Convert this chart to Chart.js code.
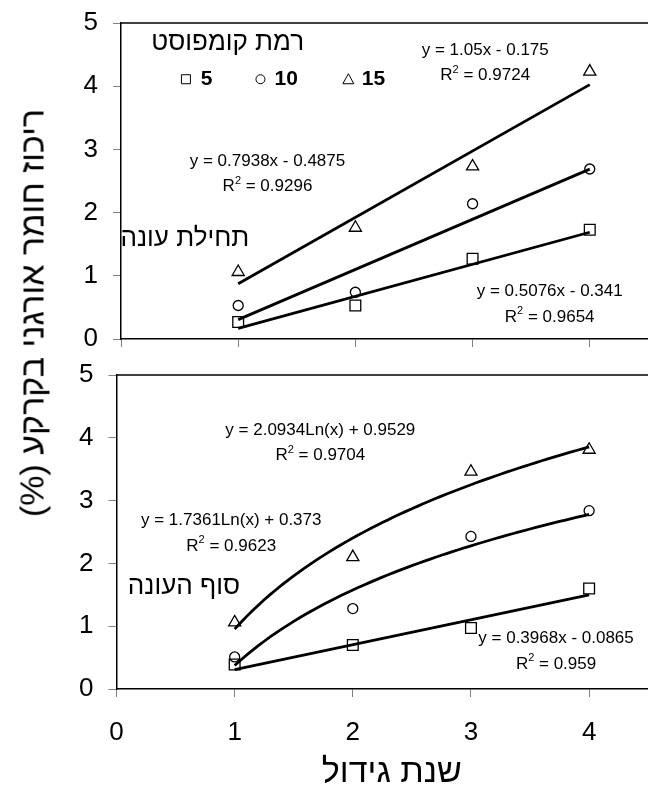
<!DOCTYPE html>
<html lang="he">
<head>
<meta charset="utf-8">
<script src="https://cdn.jsdelivr.net/npm/chart.js"></script>
<style>
  html, body { margin: 0; padding: 0; background: #fff; overflow: hidden; }
  body { width: 648px; height: 799px; position: relative; font-family: 'Liberation Sans', Arial, sans-serif; }
  #graficoInicio { position: absolute; left: 0; top: 0; }
  #graficoFim { position: absolute; left: 0; top: 360px; }
  #tituloY {
    position: absolute; left: 32px; top: 313px;
    transform: translate(-50%, -50%) rotate(-90deg);
    font-size: 34px; white-space: nowrap; color: #000;
  }
</style>
</head>
<body>
<canvas id="graficoInicio" width="676" height="360"></canvas>
<canvas id="graficoFim" width="676" height="439"></canvas>
<div id="tituloY" dir="rtl">ריכוז חומר אורגני בקרקע (%)</div>

<script>
// anos de cultivo (eixo x)
const anos = [1, 2, 3, 4];
const niveis = ['5', '10', '15'];

// início da estação
const inicio5 = [0.27, 0.53, 1.27, 1.73];
const inicio10 = [0.53, 0.74, 2.14, 2.69];
const inicio15 = [1.06, 1.76, 2.73, 4.23];

// fim da estação
const fim5 = [0.39, 0.70, 0.97, 1.60];
const fim10 = [0.51, 1.28, 2.43, 2.84];
const fim15 = [1.06, 2.10, 3.46, 3.81];

// coeficientes das linhas de tendência [a, b]
const tendInicio5 = [0.5076, -0.341];    // y = a*x + b
const tendInicio10 = [0.7938, -0.4875];
const tendInicio15 = [1.05, -0.175];
const tendFim5 = [0.3968, -0.0865];      // y = a*x + b
const tendFim10 = [1.7361, 0.373];       // y = a*ln(x) + b
const tendFim15 = [2.0934, 0.9529];

const eqInicio = ['y = 0.5076x - 0.341', 'y = 0.7938x - 0.4875', 'y = 1.05x - 0.175'];
const r2Inicio = ['0.9654', '0.9296', '0.9724'];
const eqFim = ['y = 0.3968x - 0.0865', 'y = 1.7361Ln(x) + 0.373', 'y = 2.0934Ln(x) + 0.9529'];
const r2Fim = ['0.959', '0.9623', '0.9704'];

const ticksY = [0, 1, 2, 3, 4, 5];
const ticksX = [0, 1, 2, 3, 4];

const fonte = "'Liberation Sans', Arial, sans-serif";
Chart.defaults.font.family = fonte;
Chart.defaults.color = '#000';

function linhaLinear(c) {
    return [1, 4].map(x => ({ x: x, y: c[0] * x + c[1] }));
}

function linhaLog(c) {
    let pts = [];
    for (let i = 0; i <= 60; i++) {
        let x = 1 + i * 0.05;
        pts.push({ x: x, y: c[0] * Math.log(x) + c[1] });
    }
    return pts;
}

function serieMarcadores(valores, estilo, raio) {
    return {
        data: anos.map((a, i) => ({ x: a, y: valores[i] })),
        showLine: false,
        pointStyle: estilo,
        pointRadius: raio,
        pointBorderColor: '#000',
        pointBackgroundColor: 'rgba(0,0,0,0)',
        pointBorderWidth: 1.3
    };
}

function serieTendencia(pontos) {
    return {
        data: pontos,
        showLine: true,
        borderColor: '#000',
        borderWidth: 2.8,
        pointRadius: 0,
        fill: false,
        tension: 0
    };
}

function desenharMarcador(ctx, estilo, x, y) {
    ctx.beginPath();
    if (estilo === 'rect') {
        ctx.rect(x - 4.5, y - 4.5, 9, 9);
    } else if (estilo === 'circle') {
        ctx.arc(x, y, 4.5, 0, Math.PI * 2);
    } else {
        ctx.moveTo(x, y - 5.5);
        ctx.lineTo(x + 5.5, y + 4.5);
        ctx.lineTo(x - 5.5, y + 4.5);
        ctx.closePath();
    }
    ctx.stroke();
}

// borda superior, equações, rótulos em hebraico e legenda
const anotacoes = {
    id: 'anotacoes',
    afterDraw(chart, args, opts) {
        const ctx = chart.ctx;
        const area = chart.chartArea;
        const sx = chart.scales.x, sy = chart.scales.y;
        ctx.save();

        ctx.strokeStyle = '#000';
        ctx.lineWidth = 1.5;
        ctx.beginPath();
        ctx.moveTo(area.left, area.top);
        ctx.lineTo(area.right, area.top);
        ctx.stroke();

        ctx.fillStyle = '#000';
        ctx.textBaseline = 'middle';

        (opts.equacoes || []).forEach(eq => {
            const cx = sx.getPixelForValue(eq.pos[0]);
            const cy = sy.getPixelForValue(eq.pos[1]);
            ctx.font = '17px ' + fonte;
            ctx.textAlign = 'center';
            ctx.fillText(eq.texto, cx, cy);

            const resto = ' = ' + eq.r2;
            const wR = ctx.measureText('R').width;
            const wResto = ctx.measureText(resto).width;
            ctx.font = '11px ' + fonte;
            const w2 = ctx.measureText('2').width;
            const x0 = cx - (wR + w2 + wResto) / 2;
            const y2 = cy + 25.5;
            ctx.textAlign = 'left';
            ctx.font = '17px ' + fonte;
            ctx.fillText('R', x0, y2);
            ctx.font = '11px ' + fonte;
            ctx.fillText('2', x0 + wR, y2 - 6);
            ctx.font = '17px ' + fonte;
            ctx.fillText(resto, x0 + wR + w2, y2);
        });

        (opts.rotulos || []).forEach(r => {
            ctx.font = '26px ' + fonte;
            ctx.textAlign = 'center';
            ctx.fillText(r.texto, sx.getPixelForValue(r.pos[0]), sy.getPixelForValue(r.pos[1]));
        });

        if (opts.legenda) {
            const leg = opts.legenda;
            const ly = sy.getPixelForValue(leg.y);
            ctx.lineWidth = 1;
            leg.itens.forEach(it => {
                desenharMarcador(ctx, it.estilo, sx.getPixelForValue(it.mx), ly);
                ctx.font = 'bold 21px ' + fonte;
                ctx.textAlign = 'left';
                ctx.fillText(it.texto, sx.getPixelForValue(it.tx), ly);
            });
        }
        ctx.restore();
    }
};

// sem folga extra para os rótulos das pontas: a área do gráfico fica fixa
function semFolga(s) {
    s.paddingTop = 0;
    s.paddingBottom = 0;
    s.paddingLeft = 0;
    s.paddingRight = 0;
}

function eixoX(comRotulos, altura, titulo) {
    return {
        type: 'linear',
        min: 0,
        max: 4.66,
        afterBuildTicks: s => { s.ticks = ticksX.map(v => ({ value: v })); },
        afterFit: s => { s.height = altura; semFolga(s); },
        ticks: { display: comRotulos, padding: 20, font: { size: 26 }, color: '#000', maxRotation: 0 },
        grid: { display: true, drawOnChartArea: false, drawTicks: true, tickLength: 8, color: '#808080' },
        border: { display: true, color: '#000', width: 1.5 },
        title: {
            display: !!titulo,
            text: titulo || '',
            font: { size: 34 },
            color: '#000',
            padding: { top: 0, bottom: 6 }
        }
    };
}

function eixoY(largura) {
    return {
        type: 'linear',
        min: 0,
        max: 5,
        afterBuildTicks: s => { s.ticks = ticksY.map(v => ({ value: v })); },
        afterFit: s => { s.width = largura; semFolga(s); },
        ticks: { padding: 15, font: { size: 26 }, color: '#000' },
        grid: { display: true, drawOnChartArea: false, drawTicks: true, tickLength: 8, color: '#808080' },
        border: { display: true, color: '#000', width: 1.5 }
    };
}

const estilos = ['rect', 'circle', 'triangle'];
const raios = [7.6, 5, 7];

// gráfico superior - início da estação
new Chart(document.getElementById('graficoInicio'), {
    type: 'scatter',
    data: {
        datasets: [
            serieTendencia(linhaLinear(tendInicio5)),
            serieTendencia(linhaLinear(tendInicio10)),
            serieTendencia(linhaLinear(tendInicio15)),
            serieMarcadores(inicio5, estilos[0], raios[0]),
            serieMarcadores(inicio10, estilos[1], raios[1]),
            serieMarcadores(inicio15, estilos[2], raios[2])
        ]
    },
    options: {
        responsive: false,
        animation: false,
        layout: { padding: { top: 23, right: 0, bottom: 0, left: 0 } },
        scales: { x: eixoX(false, 21), y: eixoY(121) },
        plugins: {
            legend: { display: false },
            tooltip: { enabled: false },
            anotacoes: {
                equacoes: [
                    { texto: eqInicio[0], r2: r2Inicio[0], pos: [3.658, 0.748] },
                    { texto: eqInicio[1], r2: r2Inicio[1], pos: [1.25, 2.816] },
                    { texto: eqInicio[2], r2: r2Inicio[2], pos: [3.108, 4.573] }
                ],
                rotulos: [
                    { texto: 'תחילת עונה', pos: [0.545, 1.587] },
                    { texto: 'רמת קומפוסט', pos: [0.91, 4.68] }
                ],
                legenda: {
                    y: 4.11,
                    itens: [
                        { estilo: estilos[0], mx: 0.554, tx: 0.68, texto: niveis[0] },
                        { estilo: estilos[1], mx: 1.19, tx: 1.31, texto: niveis[1] },
                        { estilo: estilos[2], mx: 1.94, tx: 2.055, texto: niveis[2] }
                    ]
                }
            }
        }
    },
    plugins: [anotacoes]
});

// gráfico inferior - fim da estação
new Chart(document.getElementById('graficoFim'), {
    type: 'scatter',
    data: {
        datasets: [
            serieTendencia(linhaLinear(tendFim5)),
            serieTendencia(linhaLog(tendFim10)),
            serieTendencia(linhaLog(tendFim15)),
            serieMarcadores(fim5, estilos[0], raios[0]),
            serieMarcadores(fim10, estilos[1], raios[1]),
            serieMarcadores(fim15, estilos[2], raios[2])
        ]
    },
    options: {
        responsive: false,
        animation: false,
        layout: { padding: { top: 15, right: 0, bottom: 0, left: 0 } },
        scales: { x: eixoX(true, 110, 'שנת גידול'), y: eixoY(116.5) },
        plugins: {
            legend: { display: false },
            tooltip: { enabled: false },
            anotacoes: {
                equacoes: [
                    { texto: eqFim[0], r2: r2Fim[0], pos: [3.72, 0.807] },
                    { texto: eqFim[1], r2: r2Fim[1], pos: [0.971, 2.68] },
                    { texto: eqFim[2], r2: r2Fim[2], pos: [1.725, 4.124] }
                ],
                rotulos: [
                    { texto: 'סוף העונה', pos: [0.571, 1.62] }
                ]
            }
        }
    },
    plugins: [anotacoes]
});
</script>
</body>
</html>
